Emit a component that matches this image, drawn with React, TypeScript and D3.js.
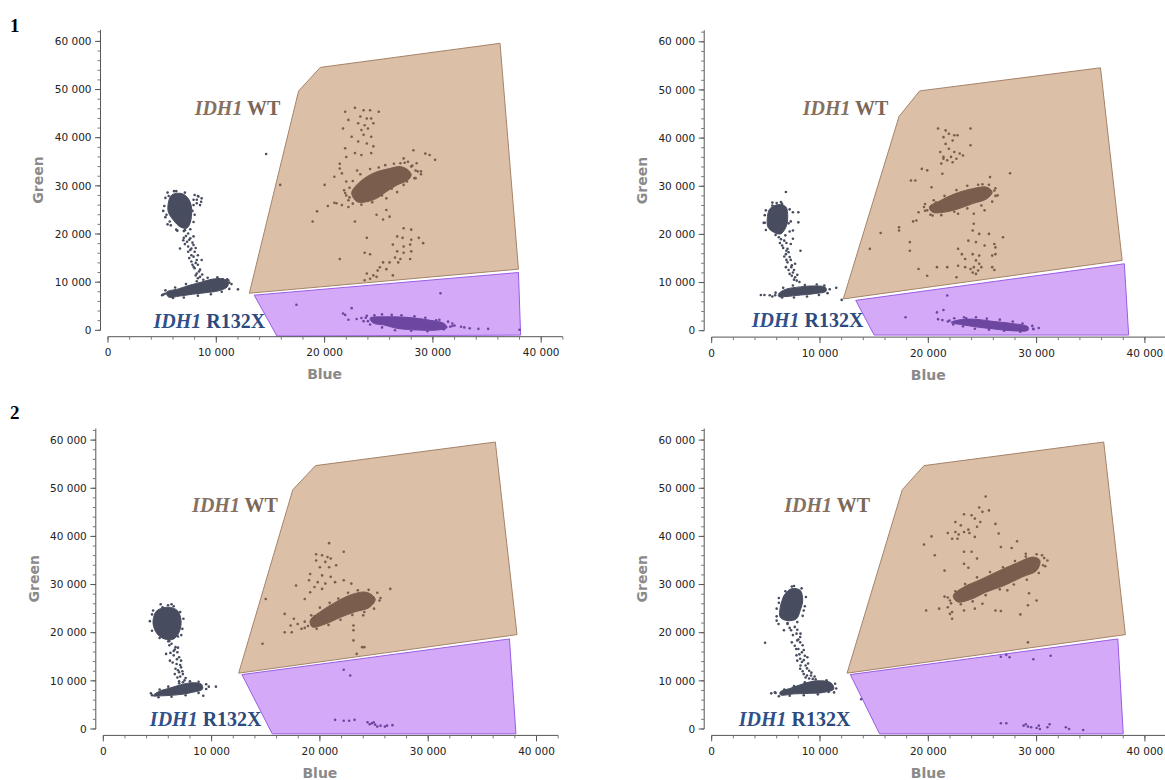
import React from "react";
import * as d3 from "d3";

type P = [number, number];

// ---- axis ticks (values in thousands) ----
const xTickValues = [0, 10, 20, 30, 40];
const xTickLabels = ["0", "10 000", "20 000", "30 000", "40 000"];
const yTickValues = [0, 10, 20, 30, 40, 50, 60];
const yTickLabels = ["0", "10 000", "20 000", "30 000", "40 000", "50 000", "60 000"];
const panelNames = ["1", "", "2", ""];

// ---- gates (Blue, Green in thousands) ----
const gateWt1: P[] = [[13.05, 7.7], [17.6, 49.7], [19.6, 54.6], [36.2, 59.6], [37.9, 12.7]];
const gateMut1: P[] = [[13.5, 7.3], [37.9, 12.0], [38.1, -1.0], [15.6, -1.2]];
const gateWt2: P[] = [[12.15, 6.6], [17.3, 44.5], [19.2, 49.8], [35.9, 54.6], [37.9, 14.6]];
const gateMut2: P[] = [[13.3, 6.3], [38.1, 13.9], [38.5, -0.9], [15.0, -0.9]];
const gateWt3: P[] = [[12.5, 11.6], [17.5, 49.7], [19.6, 54.7], [36.2, 59.6], [38.2, 19.6]];
const gateMut3: P[] = [[12.8, 11.3], [37.5, 18.7], [38.1, -1.0], [15.6, -1.0]];
const gateWt4: P[] = [[12.5, 11.6], [17.6, 49.7], [19.6, 54.7], [36.2, 59.6], [38.2, 19.6]];
const gateMut4: P[] = [[12.8, 11.3], [37.5, 18.7], [38.0, -1.0], [15.5, -1.0]];

// ---- label anchors (Blue, Green in thousands) ----
const wtLabelAt: P[] = [[8.0, 44.7], [8.4, 44.8], [8.2, 45.0], [6.7, 45.0]];
const mutLabelAt: P[] = [[4.2, 0.4], [3.7, 0.7], [4.3, 0.7], [2.5, 0.7]];

// ---- Panel 1 droplets ----
const p1GrayCores: P[][] = [
  [[5.88, 28.1], [6.8, 28.4], [7.4, 27.4], [7.7, 25.7], [7.7, 23.6], [7.57, 22.2], [7.26, 21.2], [6.65, 21.5], [6.03, 22.9], [5.57, 24.6], [5.57, 26.4]],
  [[5.4, 7.9], [6.5, 8.6], [7.6, 9.4], [8.6, 10.0], [9.6, 10.6], [10.6, 10.7], [11.1, 10.0], [11.0, 9.0], [10.2, 8.2], [9.0, 7.8], [7.8, 7.5], [6.6, 7.1], [5.6, 6.9]],
];
const p1Gray: P[] = [
  [8.0, 28.1], [8.35, 27.8], [8.65, 27.4], [8.2, 26.4], [8.5, 26.0], [7.9, 27.1], [8.2, 27.1], [8.6, 26.7], [8.3, 27.9],
  [7.1, 20.8], [7.4, 20.1], [7.6, 19.1], [7.3, 18.4], [7.9, 17.7], [7.7, 17.0], [7.4, 17.4], [8.0, 16.3], [7.9, 15.3], [8.2, 14.6],
  [7.7, 14.3], [8.3, 13.6], [8.0, 12.9], [8.5, 12.6], [8.2, 11.8], [8.5, 11.1], [8.8, 10.5], [6.65, 17.0], [6.95, 18.7], [7.7, 15.6],
  [8.3, 15.6], [7.9, 13.2], [8.65, 14.6], [7.4, 16.3], [5.26, 7.6], [5.88, 7.9], [12.0, 8.5], [5.5, 28.6], [6.1, 28.9], [7.8, 24.8],
  [5.3, 23.5], [5.5, 22.0], [6.3, 20.9], [11.2, 9.9], [10.6, 10.6], [9.6, 10.4], [14.6, 36.6], [5.1, 7.4], [11.1, 10.4],
  [7.2, 19.6], [7.5, 18.8], [7.8, 18.2], [7.1, 17.9], [7.6, 16.7], [8.1, 17.1], [7.5, 15.0], [8.1, 14.0], [7.8, 13.6], [8.4, 12.2],
  [8.1, 11.4], [8.7, 11.6], [8.3, 10.8], [7.0, 19.2], [7.9, 19.5],
];
const p1GrayHalo: P[] = [
  [5.3, 27.5], [5.2, 25.8], [5.4, 24.0], [5.8, 21.8], [6.4, 20.7], [7.0, 20.6], [7.9, 22.5], [8.0, 24.0], [7.9, 26.0], [6.3, 28.9],
  [7.1, 28.6], [5.6, 27.9], [5.1, 24.8], [7.6, 21.0], [5.7, 22.6],
  [5.0, 7.3], [5.3, 8.3], [6.2, 8.9], [7.2, 9.6], [8.2, 10.2], [9.2, 10.9], [10.1, 11.0], [11.0, 10.6], [11.4, 9.6], [11.2, 8.6],
  [10.5, 8.0], [9.5, 7.5], [8.3, 7.2], [7.0, 6.8], [6.0, 6.7],
];
const p1WtCores: P[][] = [
  [[22.5, 28.5], [22.97, 30.2], [23.9, 31.9], [24.8, 32.9], [26.0, 33.6], [27.0, 34.0], [27.7, 33.3], [28.0, 32.3], [27.7, 31.2], [26.7, 30.2], [25.7, 28.8], [24.8, 27.4], [23.9, 26.7], [23.0, 26.7]],
];
const p1Wt: P[] = [
  [21.9, 45.4], [22.8, 46.2], [23.6, 45.7], [24.2, 45.7], [25.0, 45.4], [22.2, 43.7], [23.3, 44.4], [23.9, 44.0], [24.3, 44.0], [23.1, 43.0],
  [23.7, 42.6], [24.5, 43.0], [21.7, 41.9], [22.5, 40.2], [23.4, 41.6], [24.0, 41.9], [23.6, 40.6], [24.3, 40.2], [23.1, 39.2], [23.9, 38.8],
  [21.9, 37.8], [22.8, 36.8], [23.4, 36.4], [24.3, 36.8], [24.5, 38.2],
  [21.4, 34.6], [21.4, 33.6], [20.9, 31.9], [20.0, 30.2], [22.0, 36.0], [21.6, 32.6], [22.0, 30.9], [21.9, 28.5], [20.9, 26.5], [20.3, 25.8],
  [19.3, 24.7], [18.9, 22.6], [22.8, 22.6], [24.8, 24.0], [25.4, 23.0], [26.0, 23.6], [25.7, 25.0], [27.3, 35.7], [28.2, 37.4], [29.3, 36.7],
  [29.7, 36.4], [30.2, 35.4], [28.9, 33.0], [28.0, 34.0], [28.5, 34.7], [27.7, 35.0], [28.3, 31.6], [27.6, 30.9], [27.0, 34.7],
  [21.1, 26.4], [21.6, 26.0], [22.2, 25.6], [25.7, 27.4], [15.9, 30.2], [22.3, 27.6], [28.4, 33.2],
  [27.3, 21.2], [28.0, 20.9], [26.7, 19.5], [27.2, 19.2], [28.0, 18.8], [28.7, 19.2], [29.1, 18.1], [23.9, 19.2], [26.3, 17.8], [27.3, 17.4],
  [27.9, 17.8], [26.7, 16.4], [27.3, 16.1], [28.0, 16.4], [23.7, 16.1], [24.2, 15.8], [26.5, 15.1], [27.0, 14.8], [27.9, 14.8], [21.4, 14.8],
  [25.4, 14.1], [26.0, 14.1], [25.1, 13.1], [25.7, 12.7], [24.9, 12.4], [23.9, 11.8], [24.5, 11.4], [24.2, 10.7], [24.8, 11.1], [23.7, 10.4],
  [26.3, 11.4], [26.8, 14.1],
];
const p1WtHalo: P[] = [
  [22.0, 28.0], [22.3, 29.6], [22.6, 31.0], [23.3, 32.4], [24.2, 33.5], [25.0, 33.8], [25.6, 34.3], [26.4, 34.6], [27.4, 34.8], [28.1, 34.2],
  [28.6, 33.0], [28.4, 31.6], [27.3, 30.2], [26.2, 29.4], [25.3, 28.0], [24.4, 26.6], [23.4, 26.1], [22.6, 26.3], [22.2, 27.0], [21.8, 29.1],
  [28.9, 32.4], [23.0, 33.2], [26.7, 28.7],
];
const p1MutCores: P[][] = [
  [[24.2, 2.5], [25.7, 2.8], [27.6, 2.7], [29.7, 2.1], [31.0, 1.45], [31.3, 0.55], [30.4, 0.06], [28.6, 0.06], [26.7, 0.4], [25.5, 1.1], [24.5, 1.5]],
];
const p1Mut: P[] = [
  [21.7, 3.5], [21.9, 3.2], [22.2, 2.2], [22.96, 2.35], [23.4, 2.55], [22.5, 4.6], [17.4, 5.3], [30.7, 7.7], [31.6, 0.75], [32.6, 0.75],
  [33.4, 0.4], [34.2, 0.3], [35.1, 0.3], [38.0, 0.1], [32.0, 1.0], [32.9, 0.6], [23.8, 2.6], [24.0, 1.9], [31.8, 1.4], [30.6, 2.2],
  [23.9, 3.0], [24.6, 3.1], [25.3, 3.3], [26.2, 3.2], [27.1, 3.1], [28.3, 2.9], [29.3, 2.6], [30.3, 2.1], [31.4, 1.8], [31.8, 0.9],
  [31.0, 0.2], [29.5, -0.2], [28.0, -0.1], [26.5, 0.0], [25.3, 0.6], [24.2, 1.2], [23.6, 1.9],
];

// ---- Panel 2 droplets ----
const p2GrayCores: P[][] = [
  [[5.36, 25.3], [6.19, 26.2], [6.85, 25.7], [7.02, 23.6], [6.85, 21.5], [6.36, 20.1], [5.7, 20.5], [5.2, 21.5], [5.13, 23.2]],
  [[6.19, 7.7], [6.85, 8.6], [8.18, 9.1], [9.5, 9.3], [10.5, 9.0], [10.56, 8.2], [9.5, 7.7], [8.18, 7.4], [6.85, 7.1], [6.19, 7.1]],
];
const p2Gray: P[] = [
  [6.85, 28.8], [7.5, 24.6], [8.0, 24.6], [8.0, 22.5], [7.5, 20.8], [6.2, 19.4], [6.7, 18.7], [6.5, 17.7], [7.0, 17.0], [6.85, 15.9],
  [7.2, 15.3], [7.5, 19.1], [8.2, 16.6], [7.0, 14.2], [7.35, 13.2], [7.5, 12.1], [7.7, 11.1], [7.2, 11.8], [7.85, 10.4], [6.85, 13.2],
  [7.7, 13.9], [4.54, 7.4], [4.87, 7.4], [5.36, 7.35], [5.86, 7.35], [11.5, 8.9], [12.0, 6.4], [5.6, 26.0], [6.5, 26.3], [7.1, 22.3],
  [4.9, 22.4], [7.3, 18.0], [6.9, 16.6],
  [6.4, 19.0], [6.9, 18.2], [6.6, 17.2], [7.1, 16.3], [6.7, 15.4], [7.3, 14.7], [6.9, 14.7], [7.4, 13.6], [7.1, 12.6], [7.6, 12.6],
  [7.4, 11.4], [7.9, 11.6], [7.6, 10.6], [8.1, 10.1], [6.3, 18.2],
];
const p2GrayHalo: P[] = [
  [5.0, 25.0], [5.6, 26.6], [6.4, 26.7], [7.2, 25.2], [7.3, 22.7], [7.2, 20.6], [6.8, 19.8], [5.9, 19.9], [5.0, 20.9], [4.8, 22.4],
  [4.9, 24.0], [6.0, 26.5],
  [5.9, 7.9], [6.6, 8.9], [7.5, 9.4], [8.6, 9.5], [9.7, 9.6], [10.4, 9.4], [10.9, 8.6], [10.7, 7.8], [9.9, 7.4], [8.8, 7.1],
  [7.6, 6.9], [6.5, 6.9], [5.6, 7.1],
];
const p2WtCores: P[][] = [
  [[20.1, 25.7], [21.1, 27.0], [22.4, 28.4], [24.1, 29.5], [25.4, 29.8], [25.9, 28.8], [25.4, 27.4], [24.1, 26.4], [22.75, 25.3], [21.4, 24.6], [20.4, 24.6]],
];
const p2Wt: P[] = [
  [20.9, 42.0], [21.6, 41.6], [21.9, 40.9], [23.9, 42.0], [21.4, 40.2], [22.4, 40.6], [22.7, 40.6], [21.6, 38.8], [22.25, 39.5], [23.9, 38.5],
  [21.1, 37.1], [21.9, 37.8], [22.4, 37.1], [22.9, 36.8], [23.2, 36.4], [21.4, 36.1], [22.1, 36.1], [22.6, 35.7], [21.75, 35.4], [22.25, 35.0],
  [21.2, 34.7], [21.4, 35.7], [19.4, 33.6], [19.9, 33.3], [21.3, 32.6], [18.4, 31.2], [18.8, 31.2], [20.3, 29.8], [27.55, 32.7], [25.7, 31.9],
  [26.1, 29.1], [19.1, 24.6], [18.9, 22.9], [18.6, 22.7], [17.3, 21.5], [17.3, 20.8], [15.6, 20.3], [14.6, 17.0], [18.3, 18.4], [18.3, 16.6],
  [25.2, 25.0], [24.2, 24.3], [19.6, 25.7], [19.9, 25.0], [20.4, 23.9], [22.75, 24.3], [26.2, 28.0], [25.0, 30.4],
  [24.2, 22.2], [24.1, 20.8], [24.7, 20.1], [25.6, 20.1], [23.7, 18.7], [24.4, 18.4], [25.2, 17.7], [26.1, 18.0], [26.2, 17.3], [26.9, 19.4],
  [22.75, 17.0], [23.1, 15.9], [24.1, 15.9], [24.7, 15.6], [25.9, 15.6], [26.2, 15.9], [23.4, 14.9], [24.4, 14.6], [22.75, 13.5], [23.4, 13.2],
  [23.9, 12.8], [24.2, 13.2], [24.6, 12.5], [24.1, 12.1], [24.4, 11.8], [24.9, 13.2], [25.9, 13.2], [26.1, 12.6], [22.6, 11.1], [21.75, 13.2],
  [20.8, 13.2], [19.9, 11.4], [19.1, 12.8], [24.7, 13.9],
];
const p2WtHalo: P[] = [
  [19.7, 26.3], [20.5, 27.1], [21.5, 28.0], [22.6, 29.2], [23.6, 30.1], [24.6, 30.3], [25.6, 30.3], [26.2, 29.6], [26.4, 28.1], [25.9, 26.8],
  [24.9, 26.0], [23.6, 25.4], [22.4, 24.7], [21.2, 24.0], [20.2, 24.1], [19.7, 24.9], [20.7, 26.6], [24.4, 27.8],
];
const p2MutCores: P[][] = [
  [[22.75, 2.2], [24.1, 2.4], [26.1, 1.9], [27.7, 1.5], [29.2, 0.8], [29.2, 0.1], [27.7, 0.0], [26.1, 0.35], [24.4, 0.8], [23.1, 1.25], [22.1, 1.7]],
];
const p2Mut: P[] = [
  [20.9, 2.4], [21.3, 2.2], [21.95, 2.1], [17.9, 2.8], [20.8, 3.8], [21.4, 4.3], [21.75, 7.3], [30.2, 0.55], [29.7, 0.4], [23.5, 2.6],
  [22.4, 2.6], [23.3, 2.8], [24.4, 2.8], [25.4, 2.5], [26.6, 2.3], [27.8, 1.9], [28.7, 1.5], [29.6, 1.0], [29.7, 0.3], [28.5, -0.2],
  [27.0, 0.0], [25.6, 0.2], [24.3, 0.4], [23.2, 0.9], [22.3, 1.3], [21.8, 1.9],
];

// ---- Panel 3 droplets ----
const p3GrayCores: P[][] = [
  [[4.96, 24.6], [5.98, 25.3], [6.84, 24.6], [7.18, 22.5], [7.0, 20.1], [6.5, 18.7], [5.64, 18.7], [4.96, 19.8], [4.6, 21.8], [4.7, 23.6]],
  [[5.13, 7.8], [6.15, 8.5], [7.18, 9.2], [8.2, 9.6], [9.06, 9.3], [9.16, 8.3], [8.2, 7.6], [6.84, 7.1], [5.47, 6.9], [4.6, 6.9]],
];
const p3Gray: P[] = [
  [5.98, 25.7], [6.5, 25.5], [5.47, 25.3], [6.3, 17.7], [6.67, 17.0], [6.84, 15.95], [6.5, 15.3], [7.0, 14.9], [6.15, 14.2], [6.77, 13.5],
  [7.18, 12.8], [7.0, 11.8], [7.35, 11.4], [6.84, 10.7], [7.5, 10.1], [7.18, 14.2], [5.8, 15.6], [6.67, 12.5], [7.35, 9.7], [9.74, 8.8],
  [10.4, 8.8], [9.23, 6.9], [6.0, 18.2], [7.2, 19.5], [4.5, 7.0],
  [6.1, 17.4], [6.6, 16.5], [6.9, 16.9], [6.2, 15.8], [6.8, 14.5], [6.4, 13.8], [7.1, 13.3], [6.9, 12.2], [7.3, 12.0], [7.1, 10.9],
  [7.6, 10.6], [6.6, 11.4], [7.0, 9.9], [6.5, 16.2],
];
const p3GrayHalo: P[] = [
  [4.6, 24.6], [5.3, 25.9], [6.3, 25.9], [7.1, 24.3], [7.4, 22.9], [7.3, 20.8], [6.9, 19.2], [6.1, 18.3], [5.2, 18.9], [4.5, 20.4],
  [4.3, 22.4], [4.5, 23.8],
  [4.4, 7.4], [5.2, 8.2], [6.0, 8.8], [7.0, 9.5], [8.0, 9.9], [8.8, 9.8], [9.5, 9.3], [9.5, 8.3], [8.8, 7.5], [7.6, 7.0],
  [6.3, 6.7], [5.1, 6.6],
];
const p3WtCores: P[][] = [
  [[19.1, 22.5], [20.2, 24.6], [21.5, 26.4], [22.9, 27.9], [24.3, 28.4], [25.1, 27.0], [24.6, 25.3], [23.2, 24.3], [21.9, 23.2], [20.5, 21.8], [19.3, 21.2]],
];
const p3Wt: P[] = [
  [20.85, 38.6], [22.2, 36.8], [19.65, 36.3], [20.2, 36.1], [20.7, 35.7], [19.65, 35.0], [20.5, 34.7], [21.0, 35.4], [20.0, 33.6], [20.85, 33.6],
  [21.5, 34.0], [19.1, 32.2], [20.2, 31.9], [21.0, 31.6], [19.0, 30.9], [19.8, 30.5], [20.5, 30.2], [21.4, 30.5], [19.5, 29.5], [20.2, 29.1],
  [17.8, 29.8], [18.6, 27.0], [19.1, 28.4], [22.2, 30.9], [22.9, 30.2], [26.5, 29.1], [15.0, 27.0], [16.75, 23.9], [17.6, 22.9], [17.3, 21.5],
  [18.3, 20.8], [16.75, 20.1], [17.4, 20.1], [17.95, 21.8], [14.7, 17.7], [23.1, 20.5], [23.1, 18.4], [23.9, 17.0], [24.1, 17.0], [23.4, 15.6],
  [23.1, 21.5], [18.6, 21.0], [25.6, 27.2], [24.0, 23.6], [19.5, 23.4],
];
const p3WtHalo: P[] = [
  [18.6, 22.3], [19.2, 23.6], [20.0, 25.2], [20.9, 26.2], [21.7, 27.1], [22.6, 28.3], [23.5, 28.8], [24.5, 28.9], [25.3, 28.3], [25.5, 26.7],
  [25.0, 25.0], [24.1, 24.3], [23.0, 23.7], [21.9, 22.7], [20.8, 21.6], [19.7, 20.8], [18.9, 21.4], [22.0, 25.3],
];
const p3Mut: P[] = [
  [22.2, 12.3], [22.8, 11.1], [21.4, 1.9], [22.2, 1.7], [22.7, 1.7], [23.2, 1.9], [24.4, 1.4], [24.8, 1.2], [25.1, 0.9], [25.6, 0.7],
  [26.2, 0.7], [26.7, 0.8], [24.6, 1.0], [25.3, 0.5], [24.96, 1.4], [26.0, 0.5],
];

// ---- Panel 4 droplets ----
const p4GrayCores: P[][] = [
  [[6.67, 27.7], [7.33, 29.1], [8.17, 28.8], [8.4, 26.7], [8.17, 24.6], [7.83, 22.9], [7.0, 22.5], [6.33, 23.2], [6.33, 25.3], [6.5, 26.7]],
  [[6.33, 7.7], [7.33, 8.5], [8.33, 9.3], [9.67, 10.0], [11.0, 9.6], [11.27, 8.3], [10.33, 7.6], [9.0, 7.4], [7.67, 7.3], [6.33, 7.1]],
];
const p4Gray: P[] = [
  [7.4, 29.6], [8.5, 24.6], [6.0, 22.5], [6.17, 21.8], [7.0, 21.8], [7.67, 21.2], [7.33, 20.5], [7.83, 19.8], [8.17, 18.0], [7.67, 17.3],
  [8.0, 16.6], [8.33, 15.95], [7.83, 15.3], [8.17, 14.6], [8.83, 14.9], [8.33, 13.9], [8.67, 13.2], [8.17, 12.5], [9.0, 12.1], [8.5, 11.4],
  [9.17, 11.1], [8.67, 10.7], [9.33, 10.4], [6.67, 20.5], [8.17, 19.1], [4.93, 17.9], [5.5, 7.4], [5.83, 7.6], [11.3, 7.6], [8.0, 18.6],
  [7.2, 21.0], [7.9, 20.6], [7.5, 19.5], [8.2, 19.8], [7.9, 18.4], [7.4, 18.0], [8.4, 17.4], [7.8, 16.6], [8.5, 16.4], [8.1, 15.5],
  [8.6, 15.2], [7.9, 14.2], [8.5, 14.3], [8.9, 13.6], [8.2, 13.2], [8.8, 12.6], [8.4, 12.0], [9.2, 11.7], [8.8, 11.1], [9.0, 10.5],
  [9.5, 10.9],
];
const p4GrayHalo: P[] = [
  [6.2, 27.2], [6.8, 28.6], [7.6, 29.7], [8.3, 29.2], [8.7, 27.4], [8.6, 25.5], [8.4, 23.5], [7.9, 22.2], [7.0, 22.0], [6.0, 23.4],
  [6.0, 25.0], [6.2, 26.2],
  [5.9, 7.5], [6.7, 8.2], [7.6, 8.9], [8.6, 9.7], [9.6, 10.3], [10.6, 10.1], [11.4, 9.4], [11.5, 8.4], [10.8, 7.7], [9.8, 7.2],
  [8.5, 7.0], [7.2, 6.9], [6.2, 6.8],
];
const p4WtCores: P[][] = [
  [[22.3, 27.7], [23.3, 29.5], [24.7, 30.9], [26.3, 32.6], [28.0, 34.3], [29.7, 35.7], [30.3, 35.0], [30.0, 32.9], [28.7, 31.6], [27.0, 29.8], [25.3, 28.4], [24.0, 27.0], [22.7, 26.4]],
];
const p4Wt: P[] = [
  [25.3, 48.3], [23.3, 44.6], [24.0, 44.4], [25.0, 45.1], [24.7, 46.0], [25.6, 45.4], [24.3, 43.7], [24.8, 43.0], [22.5, 43.0], [23.0, 42.3],
  [24.5, 42.0], [23.7, 41.4], [21.8, 40.7], [22.5, 40.9], [22.8, 40.4], [23.3, 40.9], [22.2, 39.5], [22.7, 39.5], [23.8, 40.7], [24.3, 39.9],
  [26.2, 42.6], [26.5, 40.6], [20.3, 40.0], [19.6, 38.3], [20.6, 36.1], [21.5, 32.9], [23.3, 36.8], [24.0, 36.8], [24.5, 35.4], [26.7, 37.8],
  [28.2, 39.0], [27.7, 37.6], [23.3, 34.3], [23.7, 33.5],
  [22.0, 26.7], [21.8, 25.3], [21.0, 25.0], [19.8, 24.6], [22.2, 24.3], [22.0, 23.9], [22.2, 22.9], [23.3, 24.6], [24.3, 25.0], [26.2, 24.6],
  [26.7, 24.5], [28.5, 23.8], [29.2, 25.7], [30.0, 26.7], [29.3, 28.2], [31.0, 35.0], [30.5, 36.1], [29.2, 18.0], [25.0, 26.0], [23.0, 27.4],
  [27.3, 28.8], [21.5, 27.5], [30.8, 33.8], [29.0, 36.4],
];
const p4WtHalo: P[] = [
  [21.8, 27.3], [22.5, 28.6], [23.4, 30.1], [24.5, 31.5], [25.7, 32.6], [26.9, 33.6], [28.0, 34.9], [29.0, 35.8], [30.0, 36.3], [30.7, 35.5],
  [30.6, 34.0], [30.2, 32.4], [29.1, 31.0], [27.9, 30.0], [26.6, 29.0], [25.3, 27.8], [24.1, 26.5], [23.0, 25.9], [22.1, 26.1], [28.0, 32.8],
  [25.0, 30.2],
];
const p4Mut: P[] = [
  [26.7, 15.0], [27.2, 15.4], [27.5, 14.9], [29.7, 14.5], [31.3, 15.2], [13.8, 6.2], [26.7, 1.2], [27.2, 1.2], [28.8, 0.7], [29.2, 0.5],
  [29.5, 0.35], [30.0, 0.2], [30.2, 0.7], [31.0, 0.35], [31.2, 1.0], [32.7, 0.35], [33.0, 0.0], [34.3, -0.2], [30.3, 0.0], [29.0, 1.0],
];

// ---- styling ----
const GRAY = "#474c5f";
const WT = "#7a5d4c";
const MUT = "#6c46a0";
const WT_FILL = "#dbbfa7";
const WT_STROKE = "#a5836a";
const MUT_FILL = "#d4aaf8";
const MUT_STROKE = "#9a5ce4";

const X_PER_K = 10.83;
const Y_PER_K = 4.815;

type PanelDef = {
  x0: number; y0: number;
  gateWt: P[]; gateMut: P[]; wtLabel: P; mutLabel: P;
  grayCores: P[][]; gray: P[]; wtCores: P[][]; wt: P[]; mutCores: P[][]; mut: P[];
};

const panels: PanelDef[] = [
  { x0: 108, y0: 330.3, gateWt: gateWt1, gateMut: gateMut1, wtLabel: wtLabelAt[0], mutLabel: mutLabelAt[0],
    grayCores: p1GrayCores, gray: [...p1Gray, ...p1GrayHalo], wtCores: p1WtCores, wt: [...p1Wt, ...p1WtHalo], mutCores: p1MutCores, mut: p1Mut },
  { x0: 711.7, y0: 330.7, gateWt: gateWt2, gateMut: gateMut2, wtLabel: wtLabelAt[1], mutLabel: mutLabelAt[1],
    grayCores: p2GrayCores, gray: [...p2Gray, ...p2GrayHalo], wtCores: p2WtCores, wt: [...p2Wt, ...p2WtHalo], mutCores: p2MutCores, mut: p2Mut },
  { x0: 103.3, y0: 729, gateWt: gateWt3, gateMut: gateMut3, wtLabel: wtLabelAt[2], mutLabel: mutLabelAt[2],
    grayCores: p3GrayCores, gray: [...p3Gray, ...p3GrayHalo], wtCores: p3WtCores, wt: [...p3Wt, ...p3WtHalo], mutCores: [], mut: p3Mut },
  { x0: 711.7, y0: 729, gateWt: gateWt4, gateMut: gateMut4, wtLabel: wtLabelAt[3], mutLabel: mutLabelAt[3],
    grayCores: p4GrayCores, gray: [...p4Gray, ...p4GrayHalo], wtCores: p4WtCores, wt: [...p4Wt, ...p4WtHalo], mutCores: [], mut: p4Mut },
];

const AX_FONT = "'DejaVu Sans', Verdana, sans-serif";
const SERIF = "'Liberation Serif', 'Times New Roman', serif";

function Panel({ p }: { p: PanelDef }) {
  const x = d3.scaleLinear().domain([0, 40]).range([p.x0, p.x0 + 40 * X_PER_K]);
  const y = d3.scaleLinear().domain([0, 60]).range([p.y0, p.y0 - 60 * Y_PER_K]);
  const yAxisX = p.x0 - 7.5;
  const xAxisY = p.y0 + 6.4;
  const poly = (pts: P[]) => "M" + pts.map(([a, b]) => `${x(a)},${y(b)}`).join("L") + "Z";
  const blob = d3.line<P>().x((d) => x(d[0])).y((d) => y(d[1])).curve(d3.curveCatmullRomClosed.alpha(0.5));
  const xMinor = d3.range(0, 42.1, 2);
  const yMinor = d3.range(0, 62.1, 2);

  const dots = (pts: P[], color: string, key: string) =>
    pts.map((d, i) => <circle key={key + i} cx={x(d[0])} cy={y(d[1])} r={1.3} fill={color} />);
  const cores = (cs: P[][], color: string, key: string) =>
    cs.map((c, i) => (
      <path key={key + i} d={blob(c) || ""} fill={color} stroke={color} strokeWidth={1} strokeLinejoin="round" />
    ));

  return (
    <g>
      <path d={poly(p.gateWt)} fill={WT_FILL} stroke={WT_STROKE} strokeWidth={1} />
      <path d={poly(p.gateMut)} fill={MUT_FILL} stroke={MUT_STROKE} strokeWidth={1} />

      {cores(p.grayCores, GRAY, "gc")}
      {dots(p.gray, GRAY, "g")}
      {cores(p.wtCores, WT, "wc")}
      {dots(p.wt, WT, "w")}
      {cores(p.mutCores, MUT, "mc")}
      {dots(p.mut, MUT, "m")}

      <text x={x(p.wtLabel[0])} y={y(p.wtLabel[1])} fontFamily={SERIF} fontWeight="bold" fontSize={20} fill="#7b6658">
        <tspan fontStyle="italic" fill="#86705f">IDH1</tspan>
        <tspan> WT</tspan>
      </text>
      <text x={x(p.mutLabel[0])} y={y(p.mutLabel[1])} fontFamily={SERIF} fontWeight="bold" fontSize={20} fill="#2c4a7d">
        <tspan fontStyle="italic" fill="#30508a">IDH1</tspan>
        <tspan> R132X</tspan>
      </text>

      <line x1={yAxisX} x2={yAxisX} y1={y(0)} y2={y(62.4)} stroke="#555" strokeWidth={1} />
      {yMinor.map((v) => (
        <line key={"ym" + v} x1={yAxisX - 3} x2={yAxisX} y1={y(v)} y2={y(v)} stroke="#777" strokeWidth={1} />
      ))}
      {yTickValues.map((v, i) => (
        <g key={"yt" + v}>
          <line x1={yAxisX - 5.5} x2={yAxisX} y1={y(v)} y2={y(v)} stroke="#555" strokeWidth={1} />
          <text x={yAxisX - 9} y={y(v)} dy="0.35em" textAnchor="end" fontFamily={AX_FONT} fontSize={10.5} fill="#222">
            {yTickLabels[i]}
          </text>
        </g>
      ))}
      <text
        transform={`translate(${yAxisX - 62},${y(31.2)}) rotate(-90)`}
        textAnchor="middle" dy="0.35em" fontFamily={AX_FONT} fontWeight="bold" fontSize={14} fill="#8a8a8a"
      >
        Green
      </text>

      <line x1={x(0)} x2={x(42)} y1={xAxisY} y2={xAxisY} stroke="#555" strokeWidth={1} />
      {xMinor.map((v) => (
        <line key={"xm" + v} x1={x(v)} x2={x(v)} y1={xAxisY} y2={xAxisY + 3} stroke="#777" strokeWidth={1} />
      ))}
      {xTickValues.map((v, i) => (
        <g key={"xt" + v}>
          <line x1={x(v)} x2={x(v)} y1={xAxisY} y2={xAxisY + 6} stroke="#555" strokeWidth={1} />
          <text x={x(v)} y={xAxisY + 19.5} textAnchor="middle" fontFamily={AX_FONT} fontSize={10.5} fill="#222">
            {xTickLabels[i]}
          </text>
        </g>
      ))}
      <text x={x(20)} y={xAxisY + 42.5} textAnchor="middle" fontFamily={AX_FONT} fontWeight="bold" fontSize={14} fill="#8a8a8a">
        Blue
      </text>
    </g>
  );
}

export default function App() {
  return (
    <svg
      width={1165}
      height={780}
      viewBox="0 0 1165 780"
      style={{ position: "absolute", left: 0, top: 0, background: "#fff" }}
    >
      <rect x={0} y={0} width={1165} height={780} fill="#fff" />
      {panels.map((p, i) => (
        <Panel key={i} p={p} />
      ))}
      <text x={10} y={32} fontFamily={SERIF} fontWeight="bold" fontSize={19} fill="#000">{panelNames[0]}</text>
      <text x={10} y={419} fontFamily={SERIF} fontWeight="bold" fontSize={19} fill="#000">{panelNames[2]}</text>
    </svg>
  );
}
